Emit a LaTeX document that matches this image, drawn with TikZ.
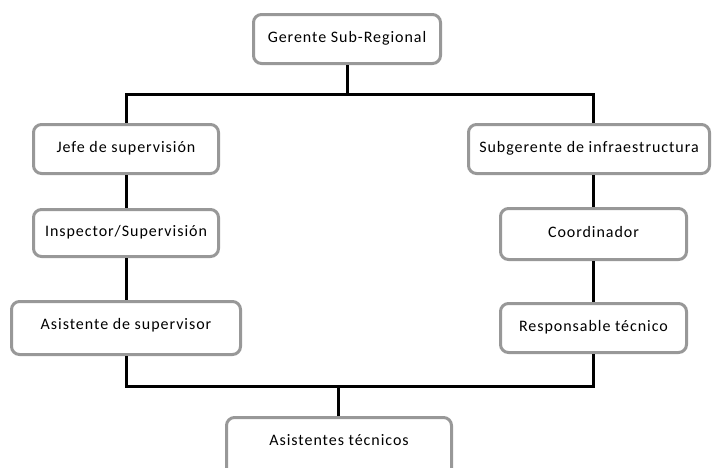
\documentclass[tikz,border=0pt]{standalone}
\usepackage{fontspec}
\setmainfont[LetterSpace=6]{Carlito}
\definecolor{boxgray}{RGB}{152,152,152}
\begin{document}
\begin{tikzpicture}[x=1pt,y=-1pt,
  box/.style={draw=boxgray, line width=3pt, rounded corners=8pt, fill=white,
    font=\fontsize{16}{19}\selectfont, inner sep=0pt, text height=10pt, text depth=3pt},
  link/.style={line width=3pt, draw=black}]
\useasboundingbox (0,0) rectangle (713,467);
\node[box, minimum width=187pt, minimum height=49pt] (top) at (347,39) {Gerente Sub-Regional};
\node[box, minimum width=185pt, minimum height=49pt] (jefe) at (126,149) {Jefe de supervisión};
\node[box, minimum width=185pt, minimum height=47pt] (insp) at (126,233) {Inspector/Supervisión};
\node[box, minimum width=229pt, minimum height=53pt, text depth=8pt] (asis) at (126,328) {Asistente de supervisor};
\node[box, minimum width=241pt, minimum height=49pt] (sub) at (589,149) {Subgerente de infraestructura};
\node[box, minimum width=186pt, minimum height=51pt] (coord) at (593.5,234) {Coordinador};
\node[box, minimum width=186pt, minimum height=49pt] (resp) at (593.5,328) {Responsable técnico};
\node[box, minimum width=225pt, minimum height=67pt, text depth=22pt] (asts) at (339,451) {Asistentes técnicos};
\coordinate (hTop) at (347,94);
\coordinate (hBot) at (338,386);
\draw[link] (top.south) -- (hTop);
\draw[link] (jefe.north) |- (hTop) -| (coord.north |- sub.north);
\draw[link] (jefe) -- (insp);
\draw[link] (insp) -- (asis);
\draw[link] (coord.north |- sub.south) -- (coord.north);
\draw[link] (coord) -- (resp);
\draw[link] (asis.south) |- (hBot) -| (resp.south);
\draw[link] (hBot) -- (hBot |- asts.north);
\end{tikzpicture}
\end{document}
